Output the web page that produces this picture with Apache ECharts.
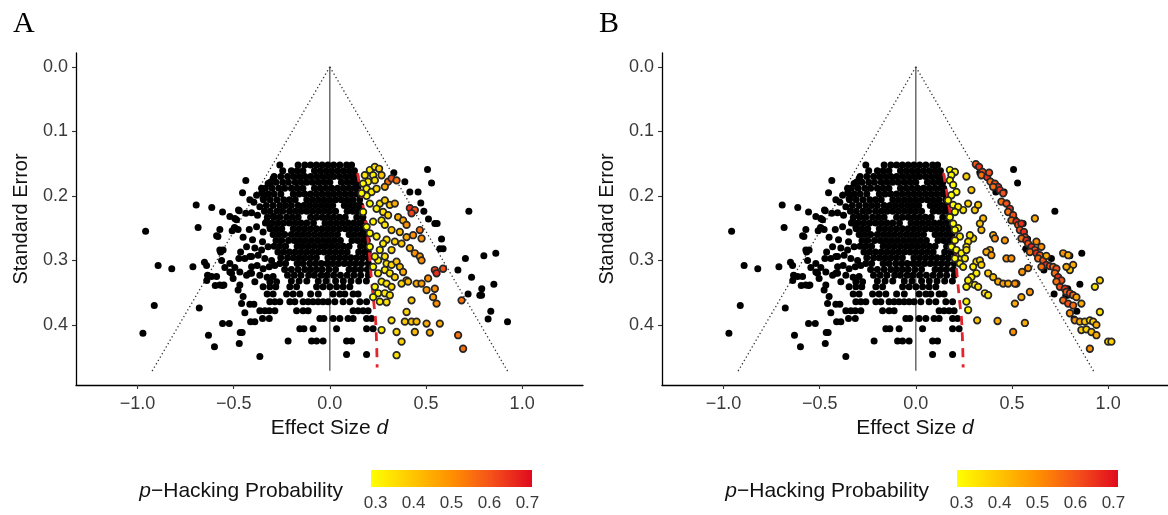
<!DOCTYPE html>
<html>
<head>
<meta charset="utf-8">
<script src="https://cdn.jsdelivr.net/npm/echarts@6/dist/echarts.min.js"></script>
<style>
  html, body { margin: 0; padding: 0; background: #ffffff; }
  #chart { width: 1168px; height: 515px; }
</style>
</head>
<body>
<div id="chart"></div>
<script>
// ---- axis ticks -------------------------------------------------------
const xTicks = [-1, -0.5, 0, 0.5, 1];
const yTicks = [0, 0.1, 0.2, 0.3, 0.4];
const probTicks = [0.3, 0.4, 0.5, 0.6, 0.7];
const probColors = ['#FFFF00', '#FFC800', '#FF9000', '#F5501A', '#E00A1E'];

// ---- reference lines (d, SE) ------------------------------------------
const zeroLine = [[0, 0], [0, 0.471]];
const funnelLeft = [[0, 0], [-0.925, 0.472]];
const funnelRight = [[0, 0], [0.925, 0.472]];
const thresholdLine = [[0.144, 0.165], [0.182, 0.233], [0.199, 0.269], [0.217, 0.331],
  [0.229, 0.367], [0.239, 0.398], [0.246, 0.466]];

// ---- non-hacked studies: rows of equal SE, then single studies ---------
const blackRows = [
  [0.152, [-0.26, -0.165, -0.13, -0.1, -0.07, -0.04, -0.01, 0.02, 0.052, 0.087, 0.113]],
  [0.161, [-0.245, -0.2, -0.17, -0.14, -0.08, -0.05, -0.02, 0.01, 0.04, 0.07, 0.1, 0.128]],
  [0.170, [-0.29, -0.255, -0.22, -0.19, -0.16, -0.13, -0.1, -0.07, -0.04, -0.01, 0.02, 0.05, 0.08, 0.11, 0.135]],
  [0.179, [-0.31, -0.28, -0.245, -0.215, -0.18, -0.15, -0.12, -0.09, -0.06, -0.03, 0.0, 0.06, 0.09, 0.12, 0.14]],
  [0.188, [-0.335, -0.3, -0.265, -0.235, -0.2, -0.17, -0.14, -0.08, -0.05, -0.02, 0.01, 0.04, 0.07, 0.1, 0.13, 0.145]],
  [0.197, [-0.32, -0.29, -0.255, -0.19, -0.16, -0.13, -0.1, -0.07, -0.04, -0.01, 0.02, 0.05, 0.08, 0.11, 0.14, 0.152]],
  [0.206, [-0.345, -0.31, -0.275, -0.24, -0.21, -0.18, -0.12, -0.09, -0.06, -0.03, 0.0, 0.03, 0.06, 0.09, 0.12, 0.155]],
  [0.215, [-0.33, -0.295, -0.26, -0.23, -0.2, -0.165, -0.135, -0.105, -0.075, -0.045, -0.015, 0.015, 0.075, 0.105, 0.135, 0.16]],
  [0.224, [-0.34, -0.31, -0.275, -0.245, -0.21, -0.18, -0.15, -0.12, -0.09, -0.06, -0.03, 0.0, 0.03, 0.09, 0.12, 0.15, 0.168]],
  [0.233, [-0.325, -0.29, -0.26, -0.225, -0.195, -0.165, -0.1, -0.07, -0.04, -0.01, 0.02, 0.05, 0.08, 0.14, 0.172]],
  [0.242, [-0.335, -0.3, -0.27, -0.24, -0.21, -0.18, -0.15, -0.12, -0.085, -0.025, 0.005, 0.035, 0.065, 0.095, 0.125, 0.155, 0.178]],
  [0.251, [-0.31, -0.28, -0.25, -0.19, -0.16, -0.13, -0.1, -0.07, -0.04, -0.01, 0.02, 0.05, 0.08, 0.11, 0.14, 0.17, 0.185]],
  [0.260, [-0.295, -0.265, -0.235, -0.2, -0.17, -0.14, -0.11, -0.08, -0.05, -0.02, 0.01, 0.04, 0.1, 0.13, 0.16, 0.188]],
  [0.269, [-0.28, -0.25, -0.215, -0.185, -0.155, -0.125, -0.095, -0.065, -0.035, -0.005, 0.025, 0.055, 0.115, 0.145, 0.175, 0.195]],
  [0.278, [-0.29, -0.26, -0.23, -0.17, -0.14, -0.11, -0.08, -0.05, -0.02, 0.01, 0.04, 0.07, 0.1, 0.16, 0.19]],
  [0.287, [-0.27, -0.24, -0.21, -0.18, -0.15, -0.12, -0.09, -0.06, -0.03, 0.0, 0.03, 0.06, 0.09, 0.15, 0.18, 0.2]],
  [0.296, [-0.255, -0.22, -0.19, -0.16, -0.13, -0.1, -0.07, -0.01, 0.02, 0.05, 0.08, 0.11, 0.14, 0.17, 0.2]],
  [0.305, [-0.26, -0.23, -0.17, -0.14, -0.105, -0.075, -0.045, -0.015, 0.015, 0.045, 0.075, 0.105, 0.135, 0.165, 0.2]],
  [0.314, [-0.235, -0.2, -0.165, -0.13, -0.1, -0.07, -0.04, -0.005, 0.03, 0.1, 0.13, 0.16, 0.195]],
  [0.323, [-0.22, -0.185, -0.15, -0.11, -0.08, -0.045, -0.015, 0.02, 0.055, 0.09, 0.125, 0.16, 0.2]],
  [0.332, [-0.2, -0.16, -0.12, -0.06, -0.02, 0.03, 0.07, 0.11, 0.15, 0.19]],
  [0.341, [-0.347, -0.312, -0.281, -0.208, -0.173, -0.069, -0.035, 0.0, 0.035, 0.069, 0.104]],
  [0.352, [-0.326, -0.295, -0.225, -0.191, -0.156, -0.1, -0.06, 0.017, 0.052, 0.078, 0.121, 0.147]],
  [0.364, [-0.312, -0.286, -0.26, -0.208, -0.182, -0.139, -0.113, -0.087, -0.061, -0.035, -0.009, 0.026, 0.069, 0.104, 0.156, 0.191]],
  [0.378, [-0.364, -0.338, -0.315, -0.286, -0.173, -0.139, -0.113, 0.121, 0.147, 0.173, 0.199]],
  [0.390, [-0.35, -0.315, -0.052, -0.031, 0.017, 0.052, 0.095, 0.121, 0.191, 0.217]],
  [0.395, [-0.412, -0.39]],
  [0.406, [-0.156, -0.135, -0.087, 0.035, 0.191, 0.225]],
  [0.425, [-0.217, -0.095, -0.069, -0.035, 0.087, 0.113]],
  [0.446, [0.087, 0.191]]
];

const blackSingles = [
  [-0.958, 0.255], [-0.695, 0.214], [-0.614, 0.218], [-0.685, 0.249], [-0.893, 0.308],
  [-0.822, 0.313], [-0.712, 0.310], [-0.913, 0.370], [-0.972, 0.413], [-0.679, 0.374],
  [-0.631, 0.416], [-0.600, 0.434], [-0.558, 0.398], [-0.523, 0.398], [-0.466, 0.412],
  [-0.456, 0.412], [-0.471, 0.429], [-0.364, 0.449], [-0.652, 0.303], [-0.641, 0.308],
  [-0.636, 0.323], [-0.640, 0.331], [-0.596, 0.339], [-0.558, 0.339], [-0.568, 0.287],
  [-0.555, 0.284], [-0.582, 0.263], [-0.572, 0.252], [-0.589, 0.262], [-0.558, 0.225],
  [-0.520, 0.232], [-0.494, 0.235], [-0.475, 0.222], [-0.485, 0.237], [-0.437, 0.176],
  [-0.454, 0.195], [-0.416, 0.206], [-0.395, 0.210], [-0.354, 0.195], [-0.338, 0.199],
  [-0.312, 0.181], [-0.508, 0.254], [-0.496, 0.249], [-0.477, 0.252], [-0.464, 0.287],
  [-0.473, 0.297], [-0.520, 0.318], [-0.494, 0.311], [-0.442, 0.297], [-0.407, 0.294],
  [-0.468, 0.318], [-0.416, 0.320], [-0.615, 0.325], [-0.589, 0.325], [-0.511, 0.320],
  [-0.503, 0.328], [-0.572, 0.338], [-0.551, 0.338], [-0.546, 0.311], [-0.520, 0.305],
  [-0.572, 0.284], [-0.563, 0.300], [-0.471, 0.223], [-0.437, 0.227], [-0.364, 0.217],
  [-0.376, 0.230], [-0.407, 0.226], [-0.381, 0.248], [-0.347, 0.256], [-0.419, 0.252],
  [-0.451, 0.264], [-0.402, 0.268], [-0.350, 0.271], [-0.433, 0.279], [-0.390, 0.281],
  [-0.355, 0.284], [-0.321, 0.279], [-0.416, 0.294], [-0.373, 0.292], [-0.338, 0.297],
  [-0.303, 0.300], [-0.407, 0.310], [-0.378, 0.308], [-0.347, 0.313], [-0.315, 0.310],
  [-0.286, 0.308], [-0.433, 0.323], [-0.407, 0.320], [-0.364, 0.323], [-0.326, 0.326],
  [-0.295, 0.325], [-0.390, 0.333], [-0.312, 0.333], [-0.277, 0.333], [-0.329, 0.240],
  [-0.312, 0.248], [-0.295, 0.232], [-0.355, 0.188], [-0.321, 0.181], [-0.295, 0.173],
  [-0.381, 0.199], [-0.347, 0.204], [-0.468, 0.338], [-0.477, 0.346], [-0.451, 0.356],
  [-0.459, 0.367], [-0.442, 0.381], [-0.416, 0.368], [-0.395, 0.368],
  // beyond the right funnel edge
  [0.508, 0.159], [0.529, 0.180], [0.723, 0.224], [0.390, 0.178], [0.333, 0.164],
  [0.416, 0.194], [0.459, 0.194], [0.473, 0.211], [0.489, 0.224], [0.513, 0.236],
  [0.546, 0.243], [0.558, 0.243], [0.581, 0.267], [0.572, 0.282], [0.589, 0.282],
  [0.705, 0.297], [0.801, 0.293], [0.863, 0.289], [0.666, 0.315], [0.737, 0.326],
  [0.853, 0.337], [0.790, 0.344], [0.719, 0.352], [0.780, 0.354], [0.789, 0.354],
  [0.837, 0.379], [0.823, 0.391], [0.924, 0.395]
];

// ---- flagged studies: [d, SE, p-hacking probability] -------------------
const hackedA = [
  [0.182, 0.168, 0.35], [0.208, 0.160, 0.33], [0.234, 0.155, 0.35], [0.256, 0.158, 0.38],
  [0.225, 0.168, 0.33], [0.199, 0.178, 0.32], [0.173, 0.181, 0.31], [0.234, 0.176, 0.35],
  [0.269, 0.168, 0.40], [0.191, 0.189, 0.32], [0.217, 0.194, 0.33], [0.243, 0.189, 0.36],
  [0.303, 0.178, 0.55], [0.321, 0.173, 0.60], [0.347, 0.176, 0.55], [0.286, 0.186, 0.45],
  [0.260, 0.212, 0.35], [0.286, 0.207, 0.38], [0.312, 0.214, 0.40], [0.338, 0.212, 0.45],
  [0.243, 0.220, 0.33], [0.208, 0.212, 0.30], [0.191, 0.200, 0.30], [0.277, 0.225, 0.36],
  [0.303, 0.230, 0.38], [0.355, 0.233, 0.45], [0.381, 0.238, 0.45], [0.399, 0.245, 0.50],
  [0.269, 0.238, 0.33], [0.286, 0.245, 0.35], [0.321, 0.253, 0.40], [0.364, 0.256, 0.42],
  [0.399, 0.264, 0.45], [0.433, 0.261, 0.50], [0.416, 0.219, 0.65], [0.442, 0.222, 0.60],
  [0.425, 0.227, 0.62], [0.468, 0.253, 0.55], [0.477, 0.266, 0.50], [0.295, 0.268, 0.35],
  [0.338, 0.271, 0.38], [0.373, 0.274, 0.40], [0.416, 0.281, 0.45], [0.442, 0.289, 0.50],
  [0.468, 0.294, 0.48], [0.477, 0.300, 0.50], [0.260, 0.284, 0.33], [0.286, 0.294, 0.35],
  [0.251, 0.300, 0.32], [0.295, 0.305, 0.35], [0.321, 0.307, 0.37], [0.347, 0.302, 0.40],
  [0.286, 0.315, 0.33], [0.312, 0.320, 0.35], [0.338, 0.326, 0.38], [0.364, 0.310, 0.42],
  [0.381, 0.318, 0.45], [0.399, 0.331, 0.42], [0.546, 0.315, 0.62], [0.555, 0.320, 0.65],
  [0.589, 0.313, 0.60], [0.269, 0.333, 0.33], [0.295, 0.336, 0.35], [0.321, 0.341, 0.37],
  [0.373, 0.336, 0.38], [0.407, 0.333, 0.42], [0.451, 0.336, 0.45], [0.477, 0.336, 0.48],
  [0.511, 0.328, 0.50], [0.503, 0.346, 0.48], [0.546, 0.344, 0.50], [0.537, 0.357, 0.47],
  [0.555, 0.367, 0.50], [0.685, 0.362, 0.55], [0.425, 0.362, 0.40], [0.260, 0.364, 0.33],
  [0.295, 0.365, 0.35], [0.399, 0.380, 0.38], [0.321, 0.393, 0.35], [0.390, 0.395, 0.40],
  [0.425, 0.395, 0.40], [0.451, 0.395, 0.42], [0.503, 0.398, 0.45], [0.572, 0.398, 0.45],
  [0.269, 0.408, 0.33], [0.347, 0.411, 0.37], [0.442, 0.411, 0.42], [0.520, 0.412, 0.45],
  [0.373, 0.426, 0.38], [0.347, 0.447, 0.35], [0.667, 0.416, 0.55], [0.693, 0.437, 0.55],
  [0.165, 0.196, 0.30], [0.173, 0.225, 0.31], [0.191, 0.248, 0.30], [0.208, 0.258, 0.31],
  [0.225, 0.240, 0.32], [0.243, 0.263, 0.33], [0.208, 0.279, 0.30], [0.234, 0.294, 0.32],
  [0.225, 0.310, 0.31], [0.251, 0.320, 0.33], [0.234, 0.341, 0.31], [0.251, 0.351, 0.32],
  [0.225, 0.357, 0.30], [0.286, 0.351, 0.34], [0.312, 0.354, 0.36], [0.277, 0.274, 0.34],
  [0.321, 0.284, 0.37]
];

const hackedB = [
  [0.312, 0.151, 0.60], [0.329, 0.155, 0.65], [0.347, 0.163, 0.60], [0.341, 0.168, 0.55],
  [0.371, 0.171, 0.65], [0.381, 0.164, 0.60], [0.388, 0.178, 0.55], [0.411, 0.181, 0.60],
  [0.428, 0.186, 0.65], [0.402, 0.186, 0.55], [0.437, 0.191, 0.65], [0.454, 0.196, 0.60],
  [0.445, 0.209, 0.55], [0.471, 0.212, 0.60], [0.489, 0.220, 0.65], [0.480, 0.225, 0.55],
  [0.506, 0.230, 0.60], [0.497, 0.238, 0.55], [0.523, 0.240, 0.65], [0.532, 0.245, 0.60],
  [0.549, 0.243, 0.65], [0.541, 0.253, 0.60], [0.562, 0.256, 0.65], [0.567, 0.264, 0.60],
  [0.549, 0.266, 0.55], [0.575, 0.269, 0.65], [0.584, 0.274, 0.60], [0.601, 0.279, 0.65],
  [0.619, 0.284, 0.60], [0.593, 0.287, 0.55], [0.627, 0.289, 0.65], [0.645, 0.292, 0.60],
  [0.636, 0.297, 0.55], [0.662, 0.300, 0.60], [0.679, 0.307, 0.65], [0.653, 0.310, 0.55],
  [0.697, 0.309, 0.60], [0.714, 0.310, 0.55], [0.731, 0.313, 0.60], [0.723, 0.320, 0.55],
  [0.740, 0.326, 0.65], [0.757, 0.331, 0.60], [0.731, 0.333, 0.55], [0.749, 0.341, 0.60],
  [0.775, 0.344, 0.65], [0.783, 0.349, 0.55], [0.801, 0.351, 0.60], [0.818, 0.354, 0.55],
  [0.766, 0.362, 0.55], [0.792, 0.367, 0.60], [0.818, 0.370, 0.55], [0.835, 0.357, 0.45],
  [0.861, 0.367, 0.45], [0.801, 0.382, 0.50], [0.827, 0.393, 0.50], [0.853, 0.395, 0.45],
  [0.879, 0.395, 0.40], [0.905, 0.393, 0.38], [0.922, 0.395, 0.40], [0.939, 0.400, 0.45],
  [0.861, 0.408, 0.40], [0.887, 0.407, 0.38], [0.913, 0.411, 0.42], [0.939, 0.416, 0.45],
  [1.000, 0.426, 0.38], [1.017, 0.426, 0.38], [0.905, 0.437, 0.50], [0.957, 0.380, 0.35],
  [0.931, 0.341, 0.35], [0.957, 0.331, 0.38], [0.818, 0.307, 0.45], [0.801, 0.315, 0.40],
  [0.783, 0.310, 0.45], [0.766, 0.289, 0.50], [0.792, 0.292, 0.45], [0.619, 0.235, 0.45],
  [0.627, 0.271, 0.50], [0.653, 0.279, 0.50], [0.679, 0.293, 0.45], [0.584, 0.312, 0.50],
  [0.553, 0.318, 0.50], [0.523, 0.336, 0.50], [0.593, 0.349, 0.50], [0.549, 0.357, 0.45],
  [0.515, 0.367, 0.45], [0.567, 0.397, 0.45], [0.506, 0.411, 0.50], [0.463, 0.269, 0.48],
  [0.471, 0.297, 0.50], [0.497, 0.297, 0.50], [0.402, 0.261, 0.45], [0.411, 0.266, 0.50],
  [0.385, 0.284, 0.45], [0.367, 0.287, 0.45], [0.393, 0.292, 0.48], [0.376, 0.320, 0.40],
  [0.402, 0.326, 0.42], [0.428, 0.333, 0.45], [0.454, 0.336, 0.48], [0.480, 0.336, 0.45],
  [0.515, 0.336, 0.50], [0.359, 0.351, 0.35], [0.376, 0.354, 0.35], [0.315, 0.302, 0.35],
  [0.333, 0.300, 0.38], [0.341, 0.307, 0.38], [0.298, 0.310, 0.33], [0.315, 0.320, 0.33],
  [0.289, 0.326, 0.33], [0.281, 0.336, 0.33], [0.307, 0.338, 0.34], [0.263, 0.341, 0.32],
  [0.272, 0.331, 0.33], [0.324, 0.341, 0.35], [0.263, 0.364, 0.32], [0.272, 0.377, 0.32],
  [0.319, 0.393, 0.40], [0.425, 0.394, 0.45], [0.263, 0.170, 0.38], [0.289, 0.191, 0.40],
  [0.307, 0.222, 0.40], [0.272, 0.212, 0.38], [0.246, 0.222, 0.35], [0.341, 0.253, 0.42],
  [0.298, 0.266, 0.35], [0.281, 0.261, 0.35], [0.272, 0.271, 0.35], [0.263, 0.279, 0.35],
  [0.237, 0.297, 0.33], [0.229, 0.305, 0.33], [0.246, 0.310, 0.33], [0.350, 0.235, 0.42],
  [0.333, 0.243, 0.40], [0.324, 0.214, 0.40], [0.177, 0.160, 0.30], [0.203, 0.163, 0.32],
  [0.185, 0.168, 0.30], [0.177, 0.176, 0.30], [0.194, 0.183, 0.30], [0.211, 0.194, 0.30],
  [0.185, 0.199, 0.30], [0.168, 0.207, 0.32], [0.194, 0.214, 0.30], [0.220, 0.217, 0.33],
  [0.203, 0.225, 0.30], [0.177, 0.233, 0.30], [0.194, 0.243, 0.30], [0.220, 0.250, 0.32],
  [0.203, 0.253, 0.30], [0.229, 0.263, 0.33], [0.203, 0.269, 0.30], [0.185, 0.279, 0.30],
  [0.211, 0.284, 0.30], [0.237, 0.289, 0.32], [0.255, 0.297, 0.33], [0.203, 0.297, 0.30],
  [0.263, 0.284, 0.35]
];

// ---- build the point table for the non-hacked studies ------------------
const blackPoints = [];
blackRows.forEach(([se, ds]) => ds.forEach(d => blackPoints.push([d, se])));
blackSingles.forEach(p => blackPoints.push(p));

// ---- layout --------------------------------------------------------------
const panels = [
  { letter: 'A', left: 76, hacked: hackedA },
  { letter: 'B', left: 662, hacked: hackedB }
];
const gridTop = 53, gridHeight = 332, gridWidth = 507;
const fontSans = '"Liberation Sans", Arial, Helvetica, sans-serif';
const fmt = v => (v < 0 ? '\u2212' : '') + Math.abs(v).toFixed(1);

const grids = [], xAxes = [], yAxes = [], series = [], graphics = [];
const hackedSeriesIdx = [];

panels.forEach((p, i) => {
  const w = Math.min(gridWidth, 1168 - p.left);
  grids.push({ left: p.left, top: gridTop, width: w, height: gridHeight,
    containLabel: false, outerBoundsMode: 'none' });
  xAxes.push({
    gridIndex: i, type: 'value', min: -1.32, max: -1.32 + w / 192.3,
    splitLine: { show: false },
    axisLine: { onZero: false, lineStyle: { color: '#000', width: 1.3 } },
    axisTick: { customValues: xTicks, length: 4, lineStyle: { color: '#333', width: 1.1 } },
    axisLabel: { customValues: xTicks, formatter: fmt, color: '#3a3a3a', fontSize: 18,
      fontFamily: fontSans, margin: 10, showMinLabel: true, showMaxLabel: true },
    name: 'Effect Size {i|d}', nameLocation: 'middle', nameGap: 31,
    nameTextStyle: { fontSize: 21, color: '#111', fontFamily: fontSans,
      rich: { i: { fontSize: 21, fontStyle: 'italic', color: '#111', fontFamily: fontSans } } }
  });
  yAxes.push({
    gridIndex: i, type: 'value', inverse: true, min: -0.0215, max: 0.4932,
    splitLine: { show: false },
    axisLine: { onZero: false, lineStyle: { color: '#000', width: 1.3 } },
    axisTick: { customValues: yTicks, length: 4, lineStyle: { color: '#333', width: 1.1 } },
    axisLabel: { customValues: yTicks, formatter: fmt, color: '#3a3a3a', fontSize: 18,
      fontFamily: fontSans, margin: 8 },
    name: 'Standard Error', nameLocation: 'middle', nameGap: 45, nameRotate: 90,
    nameTextStyle: { fontSize: 20, color: '#111', fontFamily: fontSans }
  });

  const lineBase = { type: 'line', xAxisIndex: i, yAxisIndex: i, symbol: 'none', silent: true,
    animation: false };
  series.push(Object.assign({}, lineBase, { data: zeroLine, z: 1,
    lineStyle: { color: '#444', width: 1.2 } }));
  series.push(Object.assign({}, lineBase, { data: funnelLeft, z: 1,
    lineStyle: { color: '#333', width: 1.3, type: [1.3, 2.6] } }));
  series.push(Object.assign({}, lineBase, { data: funnelRight, z: 1,
    lineStyle: { color: '#333', width: 1.3, type: [1.3, 2.6] } }));
  series.push({ type: 'scatter', xAxisIndex: i, yAxisIndex: i, data: blackPoints, z: 2,
    symbol: 'circle', symbolSize: 7, silent: true, animation: false,
    itemStyle: { color: '#000', opacity: 1 } });
  series.push(Object.assign({}, lineBase, { data: thresholdLine, smooth: true, z: 3,
    lineStyle: { color: '#E3242B', width: 2.8, type: [9, 7] } }));
  hackedSeriesIdx.push(series.length);
  series.push({ type: 'scatter', xAxisIndex: i, yAxisIndex: i, data: p.hacked, z: 4,
    symbol: 'circle', symbolSize: 6.6, silent: true, animation: false,
    itemStyle: { borderColor: '#262626', borderWidth: 1.7, opacity: 1 } });

  // panel letter
  graphics.push({ type: 'text', left: p.left - 63, top: 9,
    style: { text: p.letter, font: '30px "Liberation Serif", "Times New Roman", serif', fill: '#000' } });

  // colour bar legend
  const barLeft = p.left + 295, barTop = 470, barW = 161, barH = 17;
  const lo = 0.288, hi = 0.712;
  graphics.push({ type: 'rect', shape: { x: barLeft, y: barTop, width: barW, height: barH },
    style: { fill: new echarts.graphic.LinearGradient(0, 0, 1, 0,
      probColors.map((c, k) => ({ offset: k / (probColors.length - 1), color: c }))) } });
  probTicks.forEach(t => {
    const x = barLeft + barW * (t - lo) / (hi - lo);
    graphics.push({ type: 'text', x: x, y: barTop + barH + 8,
      style: { text: t.toFixed(1), fill: '#3a3a3a', font: '17px ' + fontSans, align: 'center', verticalAlign: 'top' } });
  });
  graphics.push({ type: 'text', x: barLeft - 28, y: barTop + 21,
    style: { text: '{i|p}\u2212Hacking Probability', align: 'right', verticalAlign: 'middle',
      font: '21px ' + fontSans, fill: '#111',
      rich: { i: { font: 'italic 21px ' + fontSans, fill: '#111' } } } });
});

const chart = echarts.init(document.getElementById('chart'), null, { renderer: 'canvas' });
chart.setOption({
  animation: false,
  backgroundColor: '#ffffff',
  grid: grids,
  xAxis: xAxes,
  yAxis: yAxes,
  visualMap: [{
    type: 'continuous', show: false, min: 0.3, max: 0.7, dimension: 2,
    seriesIndex: hackedSeriesIdx, inRange: { color: probColors }
  }],
  series: series,
  graphic: graphics
});
</script>
</body>
</html>
